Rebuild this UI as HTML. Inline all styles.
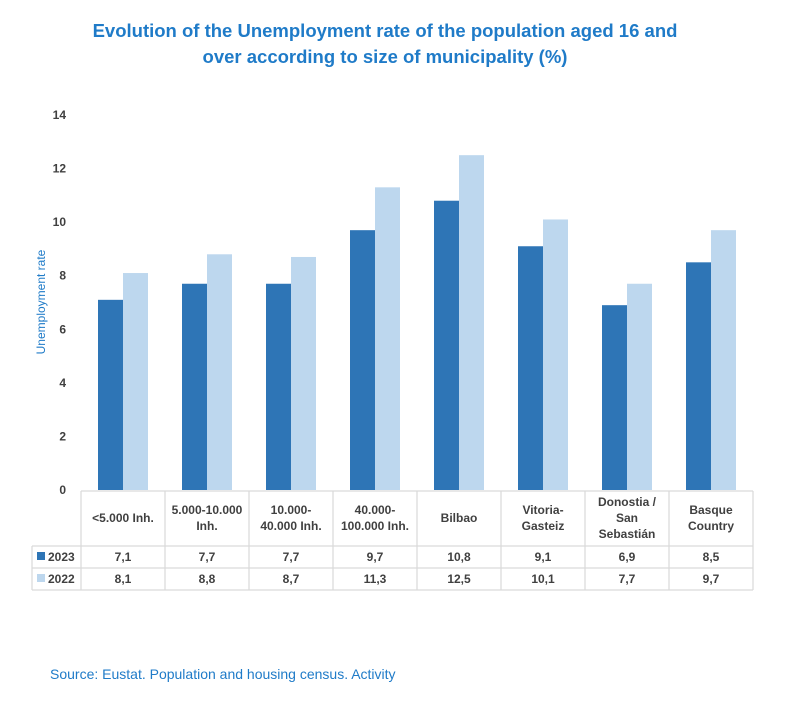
<!DOCTYPE html>
<html><head><meta charset="utf-8"><style>
body{margin:0;background:#fff;width:800px;height:710px;overflow:hidden;font-family:"Liberation Sans",sans-serif}
</style></head><body>
<svg id="c" width="800" height="710" xmlns="http://www.w3.org/2000/svg">
<text x="385" y="37" text-anchor="middle" font-size="18.5" font-weight="bold" fill="#1f7bc8"><tspan x="385">Evolution of the Unemployment rate of the population aged 16 and</tspan><tspan x="385" dy="26">over according to size of municipality (%)</tspan></text>
<text transform="translate(45,302) rotate(-90)" text-anchor="middle" font-size="12" fill="#1f7bc8">Unemployment rate</text>
<text x="50" y="679" font-size="14" fill="#1f7bc8">Source: Eustat. Population and housing census. Activity</text>
<g id="g"></g>
</svg>
<script>
const categories=[["<5.000 Inh."],["5.000-10.000","Inh."],["10.000-","40.000 Inh."],["40.000-","100.000 Inh."],["Bilbao"],["Vitoria-","Gasteiz"],["Donostia /","San","Sebastián"],["Basque","Country"]];
const values2023=[7.1,7.7,7.7,9.7,10.8,9.1,6.9,8.5];
const values2022=[8.1,8.8,8.7,11.3,12.5,10.1,7.7,9.7];
const labels2023=["7,1","7,7","7,7","9,7","10,8","9,1","6,9","8,5"];
const labels2022=["8,1","8,8","8,7","11,3","12,5","10,1","7,7","9,7"];
const yTicks=[0,2,4,6,8,10,12,14];
const NS="http://www.w3.org/2000/svg";
const g=document.getElementById('g');
const x0=81,cw=84,y0=490,yTop=115,yMax=14;
const y=v=>y0-(v/yMax)*(y0-yTop);
const cx=i=>x0+i*cw;
function mk(t,a,txt){const e=document.createElementNS(NS,t);for(const k in a)e.setAttribute(k,a[k]);if(txt!=null)e.textContent=txt;g.appendChild(e);return e;}
yTicks.forEach(v=>{const t=mk('text',{x:66,y:y(v)+4,'text-anchor':'end','font-size':12,'font-weight':'bold',fill:'#404040'},v);

});
values2023.forEach((v,i)=>{const r=mk('rect',{x:cx(i)+17,y:y(v),width:25,height:y0-y(v),fill:'#2e75b6'});

});
values2022.forEach((v,i)=>{const r=mk('rect',{x:cx(i)+42,y:y(v),width:25,height:y0-y(v),fill:'#bdd7ee'});

});
const L='#d9d9d9';
function ln(a,b,c,d){const l=mk('line',{x1:a,y1:b,x2:c,y2:d,stroke:L,'stroke-width':1.2});

}
const xe=cx(8);
ln(x0,y0+1,xe,y0+1);ln(32,546,xe,546);ln(32,568,xe,568);ln(32,590,xe,590);ln(32,546,32,590);
for(let i=0;i<=8;i++)ln(cx(i),y0+1,cx(i),590);
categories.forEach((c,i)=>{const n=c.length,st=518-(n-1)*8;
c.forEach((s,j)=>{const t=mk('text',{x:cx(i)+cw/2,y:st+j*16+4,'text-anchor':'middle','font-size':12,'font-weight':'bold',fill:'#404040'},s);

});});
[[labels2023,561,'#2e75b6','2023'],[labels2022,583,'#bdd7ee','2022']].forEach(([arr,yy,col,nm])=>{
const m=mk('rect',{x:37,y:yy-9,width:8,height:8,fill:col});


const t=mk('text',{x:48,y:yy,'font-size':12,'font-weight':'bold',fill:'#404040'},nm);


arr.forEach((s,i)=>{const v=mk('text',{x:cx(i)+cw/2,y:yy,'text-anchor':'middle','font-size':12,'font-weight':'bold',fill:'#404040'},s);

});});
</script>
</body></html>
